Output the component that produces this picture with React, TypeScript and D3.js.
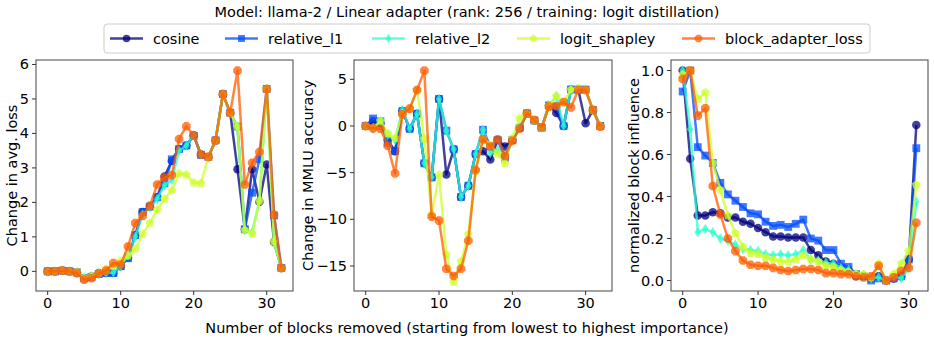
import React from 'react';
import * as d3 from 'd3';

const methodNames = ['cosine', 'relative_l1', 'relative_l2', 'logit_shapley', 'block_adapter_loss'];
const methodColors = ['#00007f', '#004cff', '#29ffce', '#ceff29', '#ff5c00'];
const methodMarkers = ['circle', 'square', 'thinDiamond', 'pentagon', 'octagon'];

const xTicks = [0, 10, 20, 30];

// panel 1: change in avg. loss
const lossCosine = [0, 0, 0.02, 0, -0.03, -0.2, -0.15, -0.05, -0.05, -0.05, 0.15, 0.4, 1.05, 1.72, 1.88, 2.15, 2.75, 3.2, 3.55, 3.65, 3.95, 3.38, 3.32, 3.8, 5.14, 4.6, 2.96, 1.22, 2.96, 2.02, 3.1, 0.85, 0.1];
const lossL1 = [0, 0, 0.02, 0, -0.03, -0.2, -0.17, -0.08, -0.05, -0.05, 0.15, 0.38, 1.05, 1.72, 1.88, 2.15, 2.55, 3.25, 3.55, 3.65, 3.93, 3.38, 3.32, 3.8, 5.14, 4.6, 4.2, 1.22, 2.28, 3.25, 5.29, 1.62, 0.1];
const lossL2 = [0, 0, 0.03, 0, -0.02, -0.18, -0.15, -0.08, -0.05, -0.03, 0.15, 0.45, 1.0, 1.65, 1.85, 2.1, 2.5, 2.65, 3.5, 3.65, 3.95, 3.38, 3.32, 3.8, 5.14, 4.6, 4.2, 1.2, 1.13, 2.04, 5.3, 0.86, 0.1];
const lossShapley = [0, 0, 0.02, 0, -0.02, -0.2, -0.15, -0.05, 0.08, 0.15, 0.3, 0.45, 0.65, 1.08, 1.4, 1.78, 2.1, 2.35, 2.83, 2.8, 2.57, 2.55, 3.32, 3.8, 5.14, 4.6, 4.2, 1.2, 1.1, 2.04, 5.3, 0.86, 0.1];
const lossBlock = [0, 0, 0.02, 0, -0.05, -0.24, -0.2, -0.07, 0.02, 0.24, 0.2, 0.72, 1.4, 1.61, 1.9, 2.52, 2.72, 2.79, 3.84, 4.21, 3.94, 3.39, 3.32, 3.8, 5.14, 4.6, 5.82, 2.52, 3.15, 3.46, 5.29, 1.64, 0.1];

// panel 2: change in MMLU accuracy
const mmluCosine = [0, 0.5, 0.3, -1.5, -2.7, 1.6, -0.3, 1.3, -4.0, -5.5, 2.9, -5.2, -2.5, -7.6, -6.4, -3.0, -2.7, -3.6, -1.5, -2.2, -1.5, -0.2, 1.35, 0.6, -0.2, 2.2, 1.4, 0.0, 3.9, 3.9, 0.3, 1.7, 0];
const mmluL1 = [0, 0.8, 0.5, -1.8, -2.7, 1.6, -0.3, 1.3, -4.0, -5.5, 2.9, -0.5, -2.5, -7.6, -6.4, -3.0, -0.4, -2.2, -1.5, -3.4, -1.5, -0.2, 1.35, 0.6, -0.2, 2.2, 2.1, 0.0, 3.9, 3.9, 3.9, 1.7, 0];
const mmluL2 = [0, -0.3, 0.5, -1.0, -1.5, 1.7, -0.3, 1.3, -4.0, -5.5, 2.9, -0.5, -2.5, -7.6, -6.4, -3.0, -0.4, -2.9, -2.6, -3.2, -1.5, -0.2, 1.35, 0.6, -0.2, 2.2, 3.2, 0.0, 3.9, 4.0, 3.9, 1.7, 0];
const mmluShapley = [0, -0.2, 0.54, -0.8, -1.3, 1.3, 1.86, 3.86, -1.4, -9.5, -5.25, -13.8, -16.7, -14.5, -11.6, -4.8, -1.4, -2.0, -3.0, -4.0, -1.3, 0.8, 1.35, 0.6, -0.2, 2.2, 3.2, 2.5, 3.9, 4.0, 3.9, 1.7, 0];
const mmluBlock = [0, -0.25, -0.3, -2.1, -5.07, 1.25, 1.86, 3.86, 5.93, -9.71, -10.14, -15.3, -16.07, -15.3, -12.3, -4.71, -1.43, -2.2, -1.43, -3.2, -1.6, -0.3, 1.35, 0.64, -0.14, 2.07, 2.14, 2.57, 2.0, 3.86, 3.86, 1.71, -0.07];

// panel 3: normalized block influence
const normCosine = [1.0, 0.58, 0.31, 0.31, 0.325, 0.32, 0.3, 0.3, 0.28, 0.27, 0.25, 0.23, 0.21, 0.21, 0.205, 0.205, 0.205, 0.145, 0.12, 0.09, 0.08, 0.06, 0.05, 0.02, 0.02, 0.01, 0.02, 0.0, 0.01, 0.02, 0.1, 0.74];
const normL1 = [0.9, 1.0, 0.635, 0.595, 0.56, 0.465, 0.41, 0.38, 0.35, 0.32, 0.315, 0.28, 0.26, 0.265, 0.255, 0.27, 0.29, 0.2, 0.19, 0.145, 0.145, 0.08, 0.065, 0.03, 0.02, 0.0, 0.01, 0.0, 0.01, 0.02, 0.1, 0.63];
const normL2 = [1.0, 0.72, 0.23, 0.245, 0.23, 0.2, 0.19, 0.17, 0.15, 0.145, 0.14, 0.125, 0.12, 0.125, 0.12, 0.125, 0.145, 0.1, 0.095, 0.085, 0.08, 0.06, 0.05, 0.03, 0.025, 0.01, 0.015, 0.0, 0.02, 0.01, 0.06, 0.375];
const normShapley = [0.98, 1.0, 0.865, 0.895, 0.56, 0.43, 0.31, 0.225, 0.16, 0.13, 0.125, 0.11, 0.1, 0.09, 0.09, 0.1, 0.12, 0.1, 0.09, 0.07, 0.065, 0.05, 0.04, 0.03, 0.03, 0.015, 0.08, 0.0, 0.03, 0.08, 0.14, 0.455];
const normBlock = [0.96, 1.0, 0.785, 0.82, 0.45, 0.315, 0.2, 0.14, 0.095, 0.075, 0.07, 0.07, 0.06, 0.05, 0.045, 0.05, 0.055, 0.055, 0.05, 0.035, 0.035, 0.03, 0.03, 0.02, 0.015, 0.02, 0.07, 0.0, 0.015, 0.045, 0.06, 0.275];

const FONT = 'DejaVu Sans, Verdana, sans-serif';
const FS = 14.5;
const ALPHA = 0.75;

function polygon(n: number, r: number, rot: number) {
  const pts = d3.range(n).map(i => {
    const a = rot + (i * 2 * Math.PI) / n;
    return [r * Math.sin(a), -r * Math.cos(a)];
  });
  return 'M' + pts.map(p => p.join(',')).join('L') + 'Z';
}

function markerPath(kind: string, s: number) {
  if (kind === 'circle') return d3.symbol(d3.symbolCircle, Math.PI * (s / 2) ** 2)()!;
  if (kind === 'square') return d3.symbol(d3.symbolSquare, s * s * 0.85)()!;
  if (kind === 'thinDiamond') { const h = s * 0.62, w = s * 0.38; return `M0,${-h}L${w},0L0,${h}L${-w},0Z`; }
  if (kind === 'pentagon') return polygon(5, s * 0.55, 0);
  return polygon(8, s * 0.55, Math.PI / 8);
}

const panels = [
  { left: 36, right: 293, yDomain: [-0.57, 6.13], yTicks: [0, 1, 2, 3, 4, 5, 6], fmt: (v: number) => String(v), label: 'Change in avg. loss', labelX: 12, xMax: 32, series: [lossCosine, lossL1, lossL2, lossShapley, lossBlock] },
  { left: 354, right: 612, yDomain: [-17.68, 7.07], yTicks: [-15, -10, -5, 0, 5], fmt: (v: number) => String(v).replace('-', '\u2212'), label: 'Change in MMLU accuracy', labelX: 308, xMax: 32, series: [mmluCosine, mmluL1, mmluL2, mmluShapley, mmluBlock] },
  { left: 671, right: 928, yDomain: [-0.05, 1.05], yTicks: [0, 0.2, 0.4, 0.6, 0.8, 1.0], fmt: (v: number) => v.toFixed(1), label: 'normalized block influence', labelX: 634, xMax: 31, series: [normCosine, normL1, normL2, normShapley, normBlock] },
];

const TOP = 60, BOTTOM = 291;

function Panel({ p }: { p: typeof panels[number] }) {
  const m = p.xMax * 0.05;
  const x = d3.scaleLinear().domain([-m, p.xMax + m]).range([p.left, p.right]);
  const y = d3.scaleLinear().domain(p.yDomain).range([BOTTOM, TOP]);
  const line = d3.line<number>().x((_, i) => x(i)).y(d => y(d));
  return (
    <g>
      <defs>
        <clipPath id={`clip${p.left}`}><rect x={p.left} y={TOP} width={p.right - p.left} height={BOTTOM - TOP} /></clipPath>
      </defs>
      <g clipPath={`url(#clip${p.left})`}>
        {p.series.map((s, k) => (
          <g key={k}>
            <path d={line(s)!} fill="none" stroke={methodColors[k]} strokeOpacity={ALPHA} strokeWidth={2.5} strokeLinejoin="round" />
            {s.map((v, i) => (
              <path key={i} d={markerPath(methodMarkers[k], 8.5)} transform={`translate(${x(i)},${y(v)})`} fill={methodColors[k]} fillOpacity={ALPHA} />
            ))}
          </g>
        ))}
      </g>
      <rect x={p.left} y={TOP} width={p.right - p.left} height={BOTTOM - TOP} fill="none" stroke="#444" strokeWidth={1} />
      {xTicks.map(t => (
        <g key={t}>
          <line x1={x(t)} x2={x(t)} y1={BOTTOM} y2={BOTTOM + 4} stroke="#333" />
          <text x={x(t)} y={BOTTOM + 17} textAnchor="middle" fontSize={FS} fontFamily={FONT}>{t}</text>
        </g>
      ))}
      {p.yTicks.map(t => (
        <g key={t}>
          <line x1={p.left - 4} x2={p.left} y1={y(t)} y2={y(t)} stroke="#333" />
          <text x={p.left - 7} y={y(t) + 5} textAnchor="end" fontSize={FS} fontFamily={FONT}>{p.fmt(t)}</text>
        </g>
      ))}
      <text transform={`translate(${p.labelX + 5},${(TOP + BOTTOM) / 2}) rotate(-90)`} textAnchor="middle" fontSize={FS} fontFamily={FONT}>{p.label}</text>
    </g>
  );
}

const legendX = [110, 225, 372, 517, 682];

export default function App() {
  return (
    <svg width={934} height={344} style={{ position: 'absolute', left: 0, top: 0, background: '#fff' }}>
      <text x={467} y={17} textAnchor="middle" fontSize={14.5} fontFamily={FONT}>Model: llama-2 / Linear adapter (rank: 256 / training: logit distillation)</text>
      <rect x={104} y={24} width={766} height={29} rx={3} fill="#fff" stroke="#ccc" />
      {methodNames.map((n, k) => (
        <g key={n}>
          <line x1={legendX[k]} x2={legendX[k] + 33} y1={38.5} y2={38.5} stroke={methodColors[k]} strokeOpacity={ALPHA} strokeWidth={2.5} />
          <path d={markerPath(methodMarkers[k], 7.5)} transform={`translate(${legendX[k] + 16.5},38.5)`} fill={methodColors[k]} fillOpacity={ALPHA} />
          <text x={legendX[k] + 43} y={44} fontSize={FS} fontFamily={FONT}>{n}</text>
        </g>
      ))}
      {panels.map(p => <Panel key={p.left} p={p} />)}
      <text x={467} y={333} textAnchor="middle" fontSize={FS} fontFamily={FONT}>Number of blocks removed (starting from lowest to highest importance)</text>
    </svg>
  );
}
